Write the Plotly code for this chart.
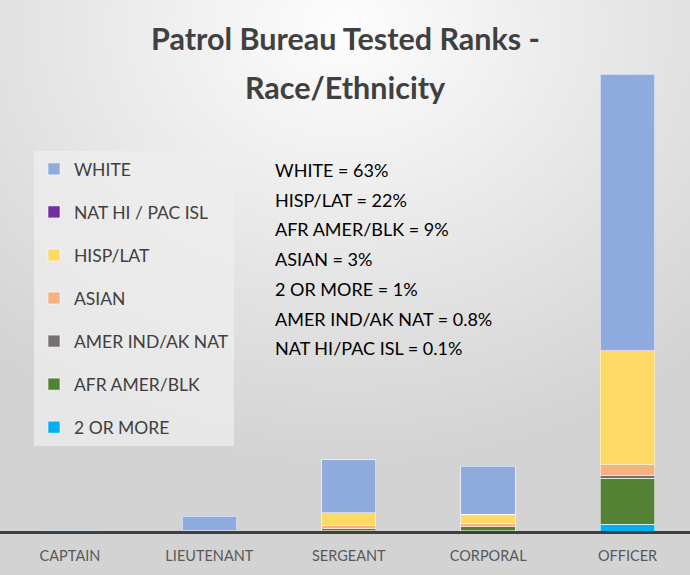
import base64
import plotly.graph_objects as go

# ---- data ----
ranks = ["CAPTAIN", "LIEUTENANT", "SERGEANT", "CORPORAL", "OFFICER"]
series_names = ["2 OR MORE", "AFR AMER/BLK", "AMER IND/AK NAT", "ASIAN", "HISP/LAT",
                "NAT HI / PAC ISL", "WHITE"]
two_or_more = [0, 0, 1, 1, 14]
afr_amer = [0, 0, 4, 8, 92]
amer_ind = [0, 0, 0, 0, 6]
asian = [0, 0, 6, 7, 21]
hisp_lat = [0, 1, 26, 18, 228]
nat_hi = [0, 0, 0, 0, 1]
white = [2, 29, 106, 96, 552]
series_values = [two_or_more, afr_amer, amer_ind, asian, hisp_lat, nat_hi, white]
series_colors = ["#00b0f0", "#548235", "#767171", "#f4b183", "#ffd966", "#7030a0", "#8faadc"]
legend_ranks = [7, 6, 5, 4, 3, 2, 1]

title_lines = ["Patrol Bureau Tested Ranks -", "Race/Ethnicity"]
summary_lines = ["WHITE = 63%", "HISP/LAT = 22%", "AFR AMER/BLK = 9%", "ASIAN = 3%",
                 "2 OR MORE = 1%", "AMER IND/AK NAT = 0.8%", "NAT HI/PAC ISL = 0.1%"]

W, H = 690, 575
MB = 44
PH = H - MB  # plot height in px
FONT = "Lato, Liberation Sans, Arial, sans-serif"

fig = go.Figure()
for name, vals, col, rk in zip(series_names, series_values, series_colors, legend_ranks):
    fig.add_trace(go.Bar(
        x=ranks, y=vals, name=name, legendgroup=name, legendrank=rk,
        marker=dict(color=col, line=dict(color="rgba(255,255,255,0.55)", width=1)),
        width=0.39,
    ))

# background gradient (svg image)
svg = ('<svg xmlns="http://www.w3.org/2000/svg" width="690" height="575" viewBox="0 0 690 575" '
       'preserveAspectRatio="none"><defs><radialGradient id="g" cx="0.5" cy="0.05" r="0.75">'
       '<stop offset="0" stop-color="#fdfdfd"/><stop offset="0.55" stop-color="#e6e6e6"/>'
       '<stop offset="1" stop-color="#d3d3d3"/></radialGradient></defs>'
       '<rect width="690" height="575" fill="url(#g)"/></svg>')
src = "data:image/svg+xml;base64," + base64.b64encode(svg.encode()).decode()
fig.add_layout_image(dict(source=src, xref="paper", yref="paper", x=0, y=1,
                          sizex=1, sizey=H / PH, xanchor="left", yanchor="top",
                          sizing="stretch", layer="below"))

def py(px):
    return 1 - px / PH

annotations = []
for i, (t, ypx) in enumerate(zip(title_lines, [38, 87])):
    annotations.append(dict(text=f"<b>{t}</b>", x=0.5, y=py(ypx), xref="paper", yref="paper",
                            xanchor="center", yanchor="middle", showarrow=False,
                            font=dict(family=FONT, size=30.5, color="#404040")))
for i, t in enumerate(summary_lines):
    annotations.append(dict(text=t, x=273 / W, y=py(170 + i * 29.7), xref="paper", yref="paper",
                            xanchor="left", yanchor="middle", showarrow=False,
                            font=dict(family=FONT, size=18, color="#000000")))

fig.update_layout(
    width=W, height=H,
    margin=dict(l=0, r=0, t=0, b=MB),
    paper_bgcolor="#d6d6d6",
    plot_bgcolor="rgba(0,0,0,0)",
    barmode="stack",
    bargap=0.6,
    annotations=annotations,
    legend=dict(
        x=34 / W, y=py(151), xanchor="left", yanchor="top",
        traceorder="grouped", tracegroupgap=17.3,
        bgcolor="rgba(238,238,238,0.75)",
        font=dict(family=FONT, size=17.5, color="#404040"),
        itemclick=False,
    ),
    xaxis=dict(range=[-0.502, 4.448], showline=True, linecolor="#404040", linewidth=3,
               showgrid=False, zeroline=False, ticks="",
               tickfont=dict(family=FONT, size=14.5, color="#595959"),
               ticklabelstandoff=10, fixedrange=True),
    yaxis=dict(range=[0, 2 * PH], visible=False, showgrid=False, zeroline=False, fixedrange=True),
    showlegend=True,
)

fig.write_html("out.html", config={"displayModeBar": False},
               post_script="document.body.style.margin='0';document.body.style.overflow='hidden';")
